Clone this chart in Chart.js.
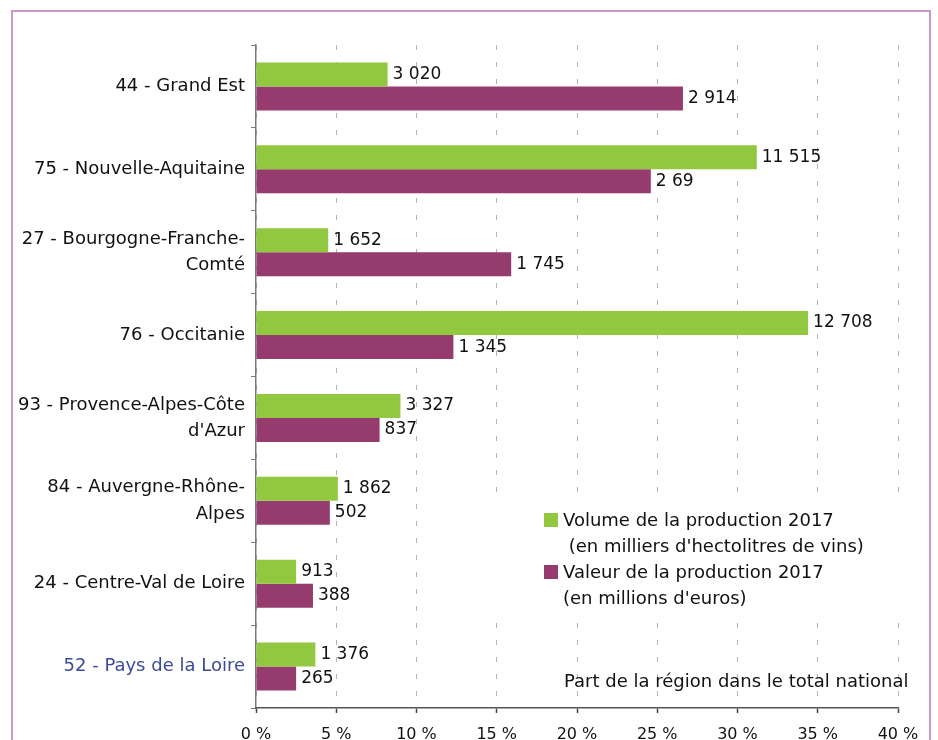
<!DOCTYPE html>
<html>
<head>
<meta charset="utf-8">
<script src="https://cdn.jsdelivr.net/npm/chart.js@4"></script>
<style>
  html, body { margin: 0; padding: 0; background: #fff; overflow: hidden; }
  #wrap { position: relative; width: 938px; height: 740px; }
  #frame { position: absolute; left: 11px; top: 10px; width: 920px; height: 800px;
           border: 2px solid #cc98cc; pointer-events: none; box-sizing: border-box; }
  canvas { position: absolute; left: 0; top: 0; }
</style>
</head>
<body>
<div id="wrap">
  <canvas id="c" width="938" height="740"></canvas>
  <div id="frame"></div>
</div>
<script>
const categories = [
  '44 - Grand Est',
  '75 - Nouvelle-Aquitaine',
  ['27 - Bourgogne-Franche-', 'Comté'],
  '76 - Occitanie',
  ['93 - Provence-Alpes-Côte', "d'Azur"],
  ['84 - Auvergne-Rhône-', 'Alpes'],
  '24 - Centre-Val de Loire',
  '52 - Pays de la Loire'
];
// share of national total (%)
const volumeShare = [8.2, 31.2, 4.5, 34.4, 9.0, 5.1, 2.5, 3.7];
const valueShare  = [26.6, 24.6, 15.9, 12.3, 7.7, 4.6, 3.55, 2.5];
// printed labels
const volumeLabels = ['3 020', '11 515', '1 652', '12 708', '3 327', '1 862', '913', '1 376'];
const valueLabels  = ['2 914', '2 69', '1 745', '1 345', '837', '502', '388', '265'];
const legendVolume = ['Volume de la production 2017', " (en milliers d'hectolitres de vins)"];
const legendValue  = ['Valeur de la production 2017', "(en millions d'euros)"];
const axisNote = 'Part de la région dans le total national';
const xTicks = [0, 5, 10, 15, 20, 25, 30, 35, 40];

const GREEN = '#92c840';
const PURPLE = '#953b6e';
const FONT = '"DejaVu Sans", Verdana, sans-serif';

const valueLabelPlugin = {
  id: 'valueLabels',
  afterDatasetsDraw(chart) {
    const ctx = chart.ctx;
    const sets = [volumeLabels, valueLabels];
    ctx.save();
    ctx.font = '17px ' + FONT;
    ctx.fillStyle = '#111';
    ctx.textBaseline = 'middle';
    ctx.textAlign = 'left';
    chart.data.datasets.forEach((ds, di) => {
      const meta = chart.getDatasetMeta(di);
      meta.data.forEach((bar, i) => {
        ctx.fillText(sets[di][i], bar.x + 5, bar.y);
      });
    });
    ctx.restore();
  }
};

const legendPlugin = {
  id: 'customLegend',
  afterDraw(chart) {
    const ctx = chart.ctx;
    ctx.save();
    ctx.fillStyle = '#fff';
    ctx.fillRect(470, 500, 440, 112);
    ctx.font = '18px ' + FONT;
    ctx.textBaseline = 'middle';
    ctx.textAlign = 'left';
    ctx.fillStyle = GREEN;
    ctx.fillRect(544, 513, 14, 14);
    ctx.fillStyle = PURPLE;
    ctx.fillRect(544, 565, 14, 14);
    ctx.fillStyle = '#111';
    ctx.fillText(legendVolume[0], 563, 521);
    ctx.fillText(legendVolume[1], 563, 547);
    ctx.fillText(legendValue[0], 563, 573);
    ctx.fillText(legendValue[1], 563, 599);
    ctx.fillText(axisNote, 564, 682);
    ctx.restore();
  }
};

new Chart(document.getElementById('c'), {
  type: 'bar',
  data: {
    labels: categories,
    datasets: [
      { label: legendVolume.join(' '), data: volumeShare, backgroundColor: GREEN,
        categoryPercentage: 0.58, barPercentage: 1.0 },
      { label: legendValue.join(' '), data: valueShare, backgroundColor: PURPLE,
        categoryPercentage: 0.58, barPercentage: 1.0 }
    ]
  },
  options: {
    indexAxis: 'y',
    responsive: false,
    animation: false,
    layout: { padding: { top: 45, right: 40, left: 0, bottom: 0 } },
    plugins: { legend: { display: false }, tooltip: { enabled: false } },
    scales: {
      y: {
        afterFit(s) { s.width = 256; },
        border: { display: true, color: '#7a7a7a', width: 1.5 },
        grid: { drawOnChartArea: false, drawTicks: true, tickLength: 5, color: '#7a7a7a', offset: true },
        ticks: {
          padding: 6,
          font: { family: FONT, size: 18, lineHeight: 1.45 },
          color: (c) => c.index === 7 ? '#3b4a9b' : '#111'
        }
      },
      x: {
        min: 0, max: 40,
        afterFit(s) { s.height = 32; },
        afterBuildTicks(s) { s.ticks = xTicks.map(v => ({ value: v })); },
        border: { display: true, color: '#555', width: 1.5, dash: [5, 12] },
        grid: { color: '#b4b4b4', lineWidth: 1, tickLength: 5, tickColor: '#444', tickWidth: 1.5, tickBorderDash: [] },
        ticks: {
          padding: 12,
          font: { family: FONT, size: 16 },
          color: '#111',
          callback: (v) => v + ' %'
        }
      }
    }
  },
  plugins: [valueLabelPlugin, legendPlugin]
});
</script>
</body>
</html>
